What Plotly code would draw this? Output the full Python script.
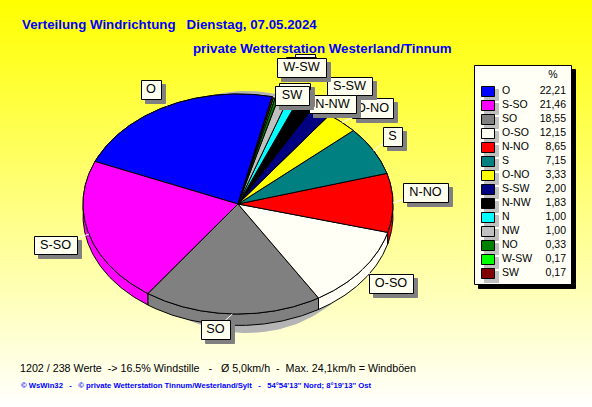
import numpy as np
import plotly.graph_objects as go

# --- data -----------------------------------------------------------------
directions = ["O", "S-SO", "SO", "O-SO", "N-NO", "S", "O-NO", "S-SW", "N-NW", "N", "NW", "NO", "W-SW", "SW"]
shares = [22.21, 21.46, 18.55, 12.15, 8.65, 7.15, 3.33, 2.00, 1.83, 1.00, 1.00, 0.33, 0.17, 0.17]
colors = ["#0000ff", "#ff00ff", "#808080", "#fffff5", "#ff0000", "#008080", "#ffff00", "#000080",
          "#000000", "#00ffff", "#c0c0c0", "#008000", "#00ff00", "#800000"]
title_line1 = "Verteilung Windrichtung   Dienstag, 07.05.2024"
title_line2 = "private Wetterstation Westerland/Tinnum"
footer_line1 = "1202 / 238 Werte  -> 16.5% Windstille   -   Ø 5,0km/h  -  Max. 24,1km/h = Windböen"
footer_line2 = "© WsWin32   -   © private Wetterstation Tinnum/Westerland/Sylt   -   54°54'13'' Nord; 8°19'13'' Ost"
covered_labels = ["N", "NW", "NO"]  # their callouts are hidden behind others in the reference

# --- layout geometry (pixels) ----------------------------------------------
W, H = 592, 407
CX, CY, RX, RY = 238, 204, 155, 110
DEPTH = 11.5
START = -12.7
BOXES = {  # x0, y0, x1, y1 of each callout, listed in drawing order
    "O": (141, 80, 161, 99), "S-SO": (34, 236, 77, 254), "SO": (201, 320, 230, 339),
    "O-SO": (369, 274, 413, 293), "N-NO": (403, 183, 448, 202), "S": (383, 127, 402, 146),
    "O-NO": (352, 98, 393, 118), "S-SW": (327, 77, 372, 95), "N-NW": (309, 95, 356, 113),
    "N": (295, 54, 315, 73), "NW": (286, 57, 316, 76), "NO": (279, 83, 310, 102),
    "W-SW": (277, 58, 326, 77), "SW": (275, 86, 309, 105),
}
LX0, LY0, LX1, LY1 = 474, 65, 571, 284
ROW0, ROWSTEP = 91, 14


def ell(t_deg, dy=0.0):
    t = np.radians(t_deg)
    return CX - RX * np.sin(t), CY + dy - RY * np.cos(t)


def poly(fig, xs, ys, fill, line="#000000", width=1.0):
    fig.add_trace(go.Scatter(x=list(xs), y=list(ys), mode="lines", fill="toself", fillcolor=fill,
                             line=dict(color=line, width=width), hoverinfo="skip", showlegend=False))


def rect(fig, x0, y0, x1, y1, fill, line=None, width=1.0):
    # half-pixel offset keeps 1px borders crisp
    x0, y0, x1, y1 = x0 + 0.5, y0 + 0.5, x1 + 0.5, y1 + 0.5
    poly(fig, [x0, x1, x1, x0, x0], [y0, y0, y1, y1, y0], fill, line or fill, width)


def text(fig, x, y, s, size, color="#000000", pos="middle right", family="Liberation Sans", weight="normal"):
    fig.add_trace(go.Scatter(x=[x], y=[y], mode="text", text=[s], textposition=pos,
                             textfont=dict(family=family, size=size, color=color, weight=weight),
                             hoverinfo="skip", showlegend=False))


fig = go.Figure()

# background gradient
fig.add_trace(go.Heatmap(x=[0, W], y=[0, H], z=[[0, 0], [1, 1]], zsmooth="best", showscale=False,
                         colorscale=[[0, "#ffff00"], [1, "#ffffff"]], hoverinfo="skip", zmin=0, zmax=1))

# titles
text(fig, 22, 25.5, title_line1, 13.3, "#0000ff", weight="bold")
text(fig, 193, 50, title_line2, 13.3, "#0000ff", weight="bold")

# pie shadow
tt = np.linspace(0, 360, 181)
poly(fig, 247 + 130 * np.sin(np.radians(tt)), 212 + 121 * np.cos(np.radians(tt)), "#b4b4b4", "#b4b4b4", 0)

# slice spans from the values
total = sum(shares)
edges = START + np.concatenate([[0], np.cumsum(shares)]) / total * 360

# walls
for i in range(len(shares)):
    ts = np.linspace(edges[i], edges[i + 1], max(3, int(edges[i + 1] - edges[i]) * 2))
    x, y = ell(ts)
    x2, y2 = ell(ts[::-1], DEPTH)
    poly(fig, np.r_[x, x2, x[0]], np.r_[y, y2, y[0]], colors[i])

# top faces
for i in range(len(shares)):
    ts = np.linspace(edges[i], edges[i + 1], max(3, int(edges[i + 1] - edges[i]) * 2))
    x, y = ell(ts)
    poly(fig, np.r_[CX, x, CX], np.r_[CY, y, CY], colors[i])

# leader lines
for i, d in enumerate(directions):
    mx, my = ell((edges[i] + edges[i + 1]) / 2)
    b = BOXES[d]
    fig.add_trace(go.Scatter(x=[mx, (b[0] + b[2]) / 2], y=[my, (b[1] + b[3]) / 2], mode="lines",
                             line=dict(color="#ffffff", width=1), hoverinfo="skip", showlegend=False))

# callouts
for d, b in BOXES.items():
    rect(fig, b[0] + 4, b[1] + 4, b[2] + 4, b[3] + 4, "#808080")
    rect(fig, b[0], b[1], b[2], b[3], "#fffff0", "#000000")
    if d not in covered_labels:
        text(fig, (b[0] + b[2]) / 2, (b[1] + b[3]) / 2 + 0.5, d, 12.7, pos="middle center")

# legend
rect(fig, LX0 + 4, LY0 + 4, LX1 + 4, LY1 + 4, "#000000")
rect(fig, LX0, LY0, LX1, LY1, "#fffff5", "#000000")
text(fig, 553, 75, "%", 10.5, pos="middle center")
for i, d in enumerate(directions):
    yc = ROW0 + i * ROWSTEP
    rect(fig, 484, yc - 2, 498, yc + 9, "#c0c0c0")
    rect(fig, 481, yc - 5, 494, yc + 5, colors[i], "#000000")
    text(fig, 502, yc + 0.5, d, 10.5)
    text(fig, 566, yc + 0.5, f"{shares[i]:.2f}".replace(".", ","), 10.5, pos="middle left")

# footers
text(fig, 20, 369.5, footer_line1, 10.7)
text(fig, 21, 386, footer_line2, 7.7, "#0000ff", weight="bold")

fig.update_layout(
    width=W, height=H, margin=dict(l=0, r=0, t=0, b=0), showlegend=False,
    paper_bgcolor="#ffff80", plot_bgcolor="#ffff80",
    xaxis=dict(range=[0, W], visible=False, fixedrange=True),
    yaxis=dict(range=[H, 0], visible=False, fixedrange=True),
)
fig.write_html("out.html", config={"displayModeBar": False},
               post_script="document.body.style.margin='0';document.body.style.overflow='hidden';")
